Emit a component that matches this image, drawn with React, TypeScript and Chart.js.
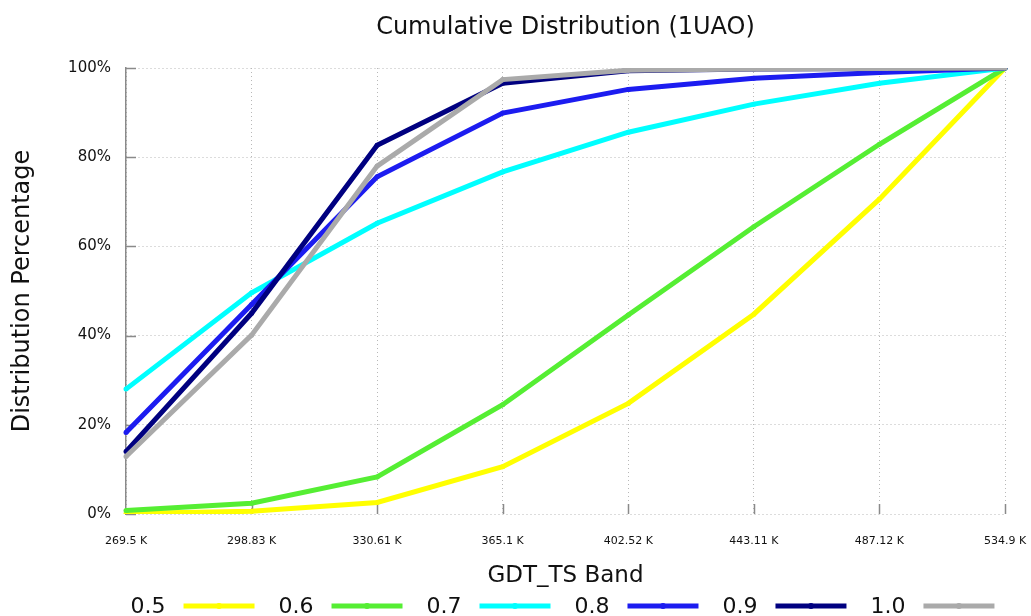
import React, { useEffect, useRef } from "react";
import { Chart, registerables } from "chart.js";

Chart.register(...registerables);

// GDT_TS band edges (x categories)
const bandLabels = ["269.5 K", "298.83 K", "330.61 K", "365.1 K", "402.52 K", "443.11 K", "487.12 K", "534.9 K"];

// Cumulative percentage per threshold
const series05 = [0.1, 0.6, 2.6, 10.6, 24.8, 44.8, 70.6, 100];
const series06 = [0.8, 2.4, 8.3, 24.5, 44.6, 64.4, 82.9, 100];
const series07 = [28.0, 49.6, 65.2, 76.7, 85.6, 91.9, 96.6, 100];
const series08 = [18.3, 47.0, 75.6, 89.9, 95.2, 97.7, 99.0, 100];
const series09 = [14.0, 45.0, 82.7, 96.6, 99.4, 99.8, 99.9, 100];
const series10 = [12.9, 40.1, 78.0, 97.4, 99.5, 99.8, 99.9, 100];

const seriesNames = ["0.5", "0.6", "0.7", "0.8", "0.9", "1.0"];
const seriesColors = ["#ffff00", "#55ee33", "#00ffff", "#1c1cf0", "#000080", "#aaaaaa"];

const yTicks = [0, 20, 40, 60, 80, 100];

const chartTitle = "Cumulative Distribution (1UAO)";

const FONT = "'DejaVu Sans', 'Liberation Sans', sans-serif";
const GRID = "#b8b8b8";

// Title centred over the plotting area
const plotTitle = {
  id: "plotTitle",
  afterDraw(chart: any) {
    const { ctx, chartArea } = chart;
    ctx.save();
    ctx.font = `24px ${FONT}`;
    ctx.fillStyle = "#111";
    ctx.textAlign = "center";
    ctx.textBaseline = "middle";
    ctx.fillText(chartTitle, (chartArea.left + chartArea.right) / 2, 28);
    ctx.restore();
  },
};

// Short inward tick marks along the left and bottom axes
const innerTicks = {
  id: "innerTicks",
  beforeDatasetsDraw(chart: any) {
    const { ctx, chartArea, scales } = chart;
    ctx.save();
    ctx.strokeStyle = "#8a8a8a";
    ctx.lineWidth = 1.5;
    ctx.beginPath();
    yTicks.forEach((v) => {
      const y = Math.round(scales.y.getPixelForValue(v)) + 0.5;
      ctx.moveTo(chartArea.left, y);
      ctx.lineTo(chartArea.left + 10, y);
    });
    bandLabels.forEach((_, i) => {
      if (i === 0) return;
      const x = Math.round(scales.x.getPixelForValue(i)) + 0.5;
      ctx.moveTo(x, chartArea.bottom);
      ctx.lineTo(x, chartArea.bottom - 10);
    });
    ctx.stroke();
    ctx.restore();
  },
};

// Legend row: label text followed by a line swatch with a marker
const textFirstLegend = {
  id: "textFirstLegend",
  afterDraw(chart: any) {
    const { ctx, height, chartArea } = chart;
    ctx.save();
    ctx.font = `22px ${FONT}`;
    ctx.textBaseline = "middle";
    const lineLen = 71;
    const gapText = 18;
    const gapItem = 24;
    const widths = seriesNames.map((n) => ctx.measureText(n).width);
    const total = widths.reduce((a, w) => a + w + gapText + lineLen, 0) + gapItem * (seriesNames.length - 1);
    let x = (chartArea.left + chartArea.right) / 2 - 3 - total / 2;
    const y = height - 10;
    seriesNames.forEach((name, i) => {
      ctx.fillStyle = "#111";
      ctx.fillText(name, x, y + 1);
      x += widths[i] + gapText;
      ctx.strokeStyle = seriesColors[i];
      ctx.lineWidth = 5;
      ctx.beginPath();
      ctx.moveTo(x, y);
      ctx.lineTo(x + lineLen, y);
      ctx.stroke();
      ctx.fillStyle = seriesColors[i];
      ctx.beginPath();
      ctx.arc(x + lineLen / 2, y, 3, 0, Math.PI * 2);
      ctx.fill();
      x += lineLen + gapItem;
    });
    ctx.restore();
  },
};

export default function App() {
  const canvasRef = useRef<HTMLCanvasElement | null>(null);

  useEffect(() => {
    const canvas = canvasRef.current;
    if (!canvas) return;
    const allSeries = [series05, series06, series07, series08, series09, series10];
    const chart = new Chart(canvas, {
      type: "line",
      data: {
        labels: bandLabels,
        datasets: allSeries.map((values, i) => ({
          label: seriesNames[i],
          data: values,
          borderColor: seriesColors[i],
          backgroundColor: seriesColors[i],
          borderWidth: 5,
          pointRadius: 2.5,
          pointBorderWidth: 0,
          pointBackgroundColor: seriesColors[i],
          tension: 0,
          fill: false,
          order: allSeries.length - 1 - i,
        })),
      },
      options: {
        responsive: false,
        animation: false,
        layout: { padding: { left: 0, right: 26, top: 68, bottom: 26 } },
        plugins: {
          legend: { display: false },
          tooltip: { enabled: false },
          title: { display: false },
        },
        scales: {
          x: {
            type: "category",
            offset: false,
            afterFit(scale: any) {
              scale.height = 76;
              scale.paddingLeft = 0;
              scale.paddingRight = 0;
            },
            grid: {
              color: GRID,
              lineWidth: 1,
              drawTicks: false,
            },
            border: { display: false, dash: [1, 3] },
            ticks: {
              color: "#111",
              font: { family: FONT, size: 11 },
              padding: 21,
              maxRotation: 0,
              autoSkip: false,
            },
            title: {
              display: true,
              text: "GDT_TS Band",
              color: "#111",
              font: { family: FONT, size: 23 },
              padding: 0,
            },
          },
          y: {
            min: 0,
            max: 100,
            afterFit(scale: any) {
              scale.width = 126;
              scale.paddingTop = 0;
              scale.paddingBottom = 0;
            },
            afterBuildTicks(scale: any) {
              scale.ticks = yTicks.map((v) => ({ value: v }));
            },
            grid: {
              color: GRID,
              lineWidth: 1,
              drawTicks: false,
            },
            border: { display: true, color: "#8a8a8a", width: 1.5, dash: [1, 3] },
            ticks: {
              color: "#111",
              font: { family: FONT, size: 15 },
              padding: 15,
              callback: (v: any) => `${v}%`,
            },
            title: {
              display: true,
              text: "Distribution Percentage",
              color: "#111",
              font: { family: FONT, size: 24 },
              padding: { top: 8, bottom: 0 },
            },
          },
        },
      },
      plugins: [innerTicks, plotTitle, textFirstLegend],
    } as any);

    return () => chart.destroy();
  }, []);

  return (
    <div style={{ position: "fixed", left: 0, top: 0, width: 1031, height: 616, background: "#fff" }}>
      <canvas ref={canvasRef} width={1031} height={616} />
    </div>
  );
}
